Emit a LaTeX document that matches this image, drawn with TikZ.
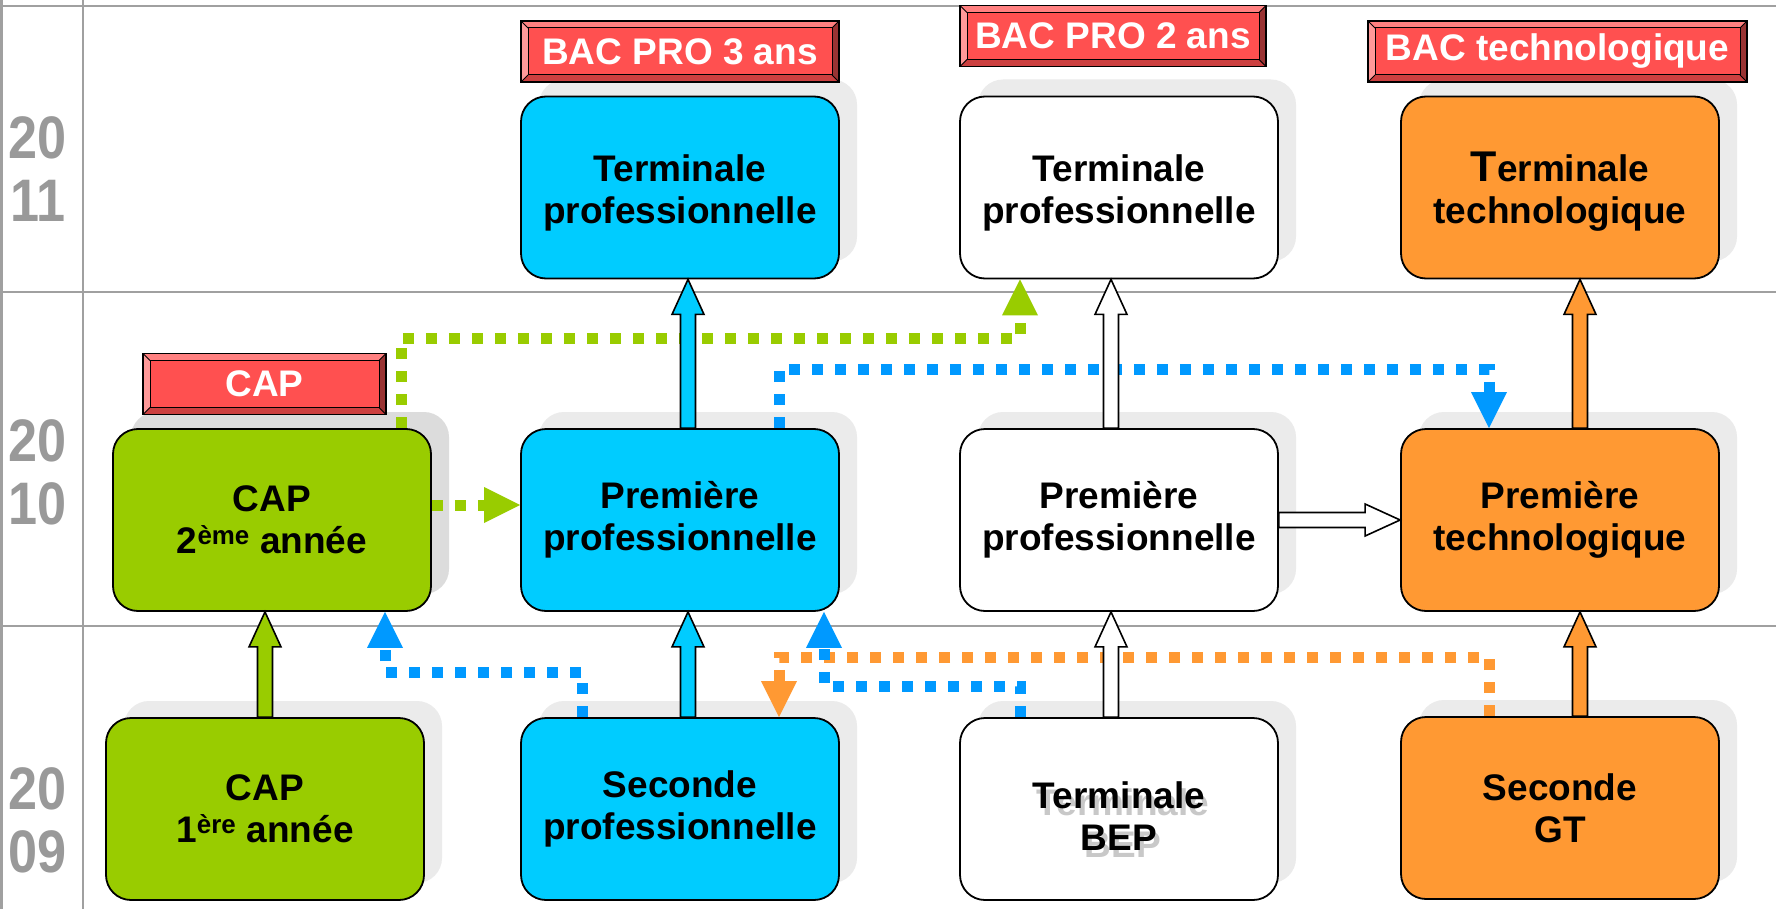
\documentclass[tikz,border=0pt]{standalone}
\usepackage{fontspec}
\setmainfont{Liberation Sans}
\newfontfamily\yearfam{Liberation Sans}[FakeStretch=0.87]
\usetikzlibrary{calc,shadows}
\definecolor{gridgray}{HTML}{A0A0A0}
\definecolor{yeargray}{HTML}{999999}
\definecolor{cgreen}{HTML}{99CC00}
\definecolor{cblue}{HTML}{00CCFF}
\definecolor{dblue}{HTML}{0099FF}
\definecolor{corange}{HTML}{FF9933}
\definecolor{labred}{HTML}{FF5050}
\definecolor{labtop}{HTML}{FF8080}
\definecolor{lableft}{HTML}{FF9999}
\definecolor{labbot}{HTML}{CC4040}
\definecolor{labright}{HTML}{993333}
\definecolor{shgray}{HTML}{EBEBEB}
\definecolor{shdark}{HTML}{DCDCDC}
\definecolor{txtshadow}{HTML}{C8C8C8}
\newcommand\boxfont{\fontsize{37}{42}\selectfont\bfseries}
\newcommand\yearfont{\yearfam\fontsize{60}{63}\selectfont\bfseries}
\newcommand\toprule{\rule{0pt}{37pt}}
\newcommand\blkup[4]{%
  \coordinate (ba) at (#3.north -| #2);
  \coordinate (bt) at (#4.south -| #2);
  \filldraw[blk, fill=#1] ($(ba)+(-7.5,0)$) -- ($(bt)+(-7.5,35)$) -- ($(bt)+(-16,35)$) -- (bt) -- ($(bt)+(16,35)$) -- ($(bt)+(7.5,35)$) -- ($(ba)+(7.5,0)$) -- cycle;}
\newcommand\blkright[4]{%
  \coordinate (ba) at (#3.east |- #2);
  \coordinate (bt) at (#4.west |- #2);
  \filldraw[blk, fill=#1] ($(ba)+(0,-7.5)$) -- ($(bt)+(-35,-7.5)$) -- ($(bt)+(-35,-16)$) -- (bt) -- ($(bt)+(-35,16)$) -- ($(bt)+(-35,7.5)$) -- ($(ba)+(0,7.5)$) -- cycle;}
\newcommand\headup[2]{\fill[#1] (#2) -- ++(-18,36) -- ++(36,0) -- cycle;}
\newcommand\headdown[2]{\fill[#1] (#2) -- ++(-18,-36) -- ++(36,0) -- cycle;}
\newcommand\headright[2]{\fill[#1] (#2) -- ++(-36,-18) -- ++(0,36) -- cycle;}
\tikzset{
  gridline/.style={draw=gridgray, line width=2.5pt},
  yearsty/.style={text=yeargray, font=\yearfont, align=center, inner sep=0pt},
  pbox/.style={draw=black, line width=1.8pt, rounded corners=25pt, minimum width=318pt,
    minimum height=182pt, inner sep=0pt, align=center, font=\boxfont,
    drop shadow={shadow xshift=18pt, shadow yshift=17pt, fill=#1, opacity=1}},
  pbox/.default=shgray,
  redlab/.style={draw=black, line width=1.5pt, fill=labred, text=white, font=\boxfont,
    inner sep=0pt, minimum height=61pt,
    path picture={
      \fill[labtop] (path picture bounding box.north west) -- (path picture bounding box.north east)
        -- ([shift={(-7pt,-7pt)}]path picture bounding box.north east) -- ([shift={(7pt,-7pt)}]path picture bounding box.north west) -- cycle;
      \fill[lableft] (path picture bounding box.north west) -- (path picture bounding box.south west)
        -- ([shift={(7pt,7pt)}]path picture bounding box.south west) -- ([shift={(7pt,-7pt)}]path picture bounding box.north west) -- cycle;
      \fill[labbot] (path picture bounding box.south west) -- (path picture bounding box.south east)
        -- ([shift={(-7pt,7pt)}]path picture bounding box.south east) -- ([shift={(7pt,7pt)}]path picture bounding box.south west) -- cycle;
      \fill[labright] (path picture bounding box.north east) -- (path picture bounding box.south east)
        -- ([shift={(-7pt,7pt)}]path picture bounding box.south east) -- ([shift={(-7pt,-7pt)}]path picture bounding box.north east) -- cycle;
      \draw[black, line width=1pt] ([shift={(7pt,-7pt)}]path picture bounding box.north west) rectangle ([shift={(-7pt,7pt)}]path picture bounding box.south east);
      \draw[black, line width=0.8pt] (path picture bounding box.north west) -- ([shift={(7pt,-7pt)}]path picture bounding box.north west)
        (path picture bounding box.north east) -- ([shift={(-7pt,-7pt)}]path picture bounding box.north east)
        (path picture bounding box.south west) -- ([shift={(7pt,7pt)}]path picture bounding box.south west)
        (path picture bounding box.south east) -- ([shift={(-7pt,7pt)}]path picture bounding box.south east);
    }},
  dotline/.style={line width=11pt, dash pattern=on 11pt off 12pt, shorten >=35pt},
  blk/.style={draw=black, line width=1.6pt, miter limit=10},
}
\begin{document}
\begin{tikzpicture}[x=1pt,y=-1pt]
\useasboundingbox[fill=white] (0,0) rectangle (1776,909);
% grid
\draw[gridline] (0,6) -- (1776,6);
\draw[gridline] (0,292) -- (1776,292);
\draw[gridline] (0,626) -- (1776,626);
\draw[gridline] (83,0) -- (83,909);
\draw[gridline] (1.5,0) -- (1.5,909);
% years
\node[yearsty] (y11) at (38,169) {20\\11};
\node[yearsty] (y10) at (38,472) {20\\10};
\node[yearsty] (y09) at (38,820) {20\\09};
% boxes
\node[pbox=shdark, fill=cgreen] (cap2) at (272,520) {CAP\\2\textsuperscript{ème} année};
\node[pbox, fill=cgreen] (cap1) at (265,809) {CAP\\1\textsuperscript{ère} année};
\node[pbox, fill=cblue] (tp2) at (680,187.5) {\toprule Terminale\\professionnelle};
\node[pbox, fill=cblue] (pp2) at (680,520) {Première\\professionnelle};
\node[pbox, fill=cblue] (sp2) at (680,809) {Seconde\\professionnelle};
\node[pbox, fill=white] (tp3) at (1119,187.5) {\toprule Terminale\\professionnelle};
\node[pbox, fill=white] (pp3) at (1119,520) {Première\\professionnelle};
\node[pbox, fill=white] (bep) at (1119,809) {};
\node[font=\boxfont, text=txtshadow, align=center, inner sep=0pt] (bepsh) at ($(bep.center)+(4,14)$) {Terminale\\BEP};
\node[font=\boxfont, align=center, inner sep=0pt] (beptx) at ($(bep.center)+(0,7)$) {Terminale\\BEP};
\node[pbox, fill=corange] (tp4) at (1560,187.5) {\toprule{\fontsize{43}{42}\selectfont T}erminale\\technologique};
\node[pbox, fill=corange] (pt4) at (1560,520) {Première\\technologique};
\node[pbox, fill=corange] (sgt) at (1560,808) {Seconde\\GT};
% labels
\node[redlab, minimum width=318pt] (lab3) at (680,51.5) {BAC PRO 3 ans};
\node[redlab, minimum width=306pt] (lab2) at (1113,36) {BAC PRO 2 ans};
\node[redlab, minimum width=379pt] (labt) at (1557.5,51.5) {BAC technologique};
\node[redlab, minimum width=243pt] (labc) at (264.5,384) {CAP};
% helper coordinates
\coordinate (xa) at (401,0);
\coordinate (xb) at (1020,0);
\coordinate (xc) at (779,0);
\coordinate (xd) at (1489,0);
\coordinate (xe) at (582,0);
\coordinate (xf) at (385,0);
\coordinate (xh) at (824,0);
\coordinate (xk1) at (265,0);
\coordinate (xk2) at (688,0);
\coordinate (xk3) at (1111,0);
\coordinate (xk4) at (1580,0);
\coordinate (yg1) at (0,338);
\coordinate (yg2) at (0,505);
\coordinate (yb1) at (0,369);
\coordinate (yb2) at (0,672);
\coordinate (yb3) at (0,686);
\coordinate (yo) at (0,657);
\coordinate (yh) at (0,520);
% dotted connectors
\coordinate (g1t) at (tp3.south -| xb);
\draw[dotline, draw=cgreen] (cap2.north -| xa) |- (yg1 -| xb) -- (g1t);
\headup{cgreen}{g1t}
\coordinate (g2t) at (pp2.west |- yg2);
\draw[dotline, draw=cgreen] (cap2.east |- yg2) -- (g2t);
\headright{cgreen}{g2t}
\coordinate (b1t) at (pt4.north -| xd);
\draw[dotline, draw=dblue] (pp2.north -| xc) |- (yb1 -| xd) -- (b1t);
\headdown{dblue}{b1t}
\coordinate (b2t) at (cap2.south -| xf);
\draw[dotline, draw=dblue] (sp2.north -| xe) |- (yb2 -| xf) -- (b2t);
\headup{dblue}{b2t}
\coordinate (ot) at (sp2.north -| xc);
\draw[dotline, draw=corange] (sgt.north -| xd) |- (yo -| xc) -- (ot);
\headdown{corange}{ot}
\coordinate (b3t) at (pp2.south -| xh);
\draw[dotline, draw=dblue] (bep.north -| xb) |- (yb3 -| xh) -- (b3t);
\headup{dblue}{b3t}
% block arrows
\blkup{cgreen}{xk1}{cap1}{cap2}
\blkup{cblue}{xk2}{sp2}{pp2}
\blkup{cblue}{xk2}{pp2}{tp2}
\blkup{white}{xk3}{bep}{pp3}
\blkup{white}{xk3}{pp3}{tp3}
\blkright{white}{yh}{pp3}{pt4}
\blkup{corange}{xk4}{sgt}{pt4}
\blkup{corange}{xk4}{pt4}{tp4}
\end{tikzpicture}
\end{document}
